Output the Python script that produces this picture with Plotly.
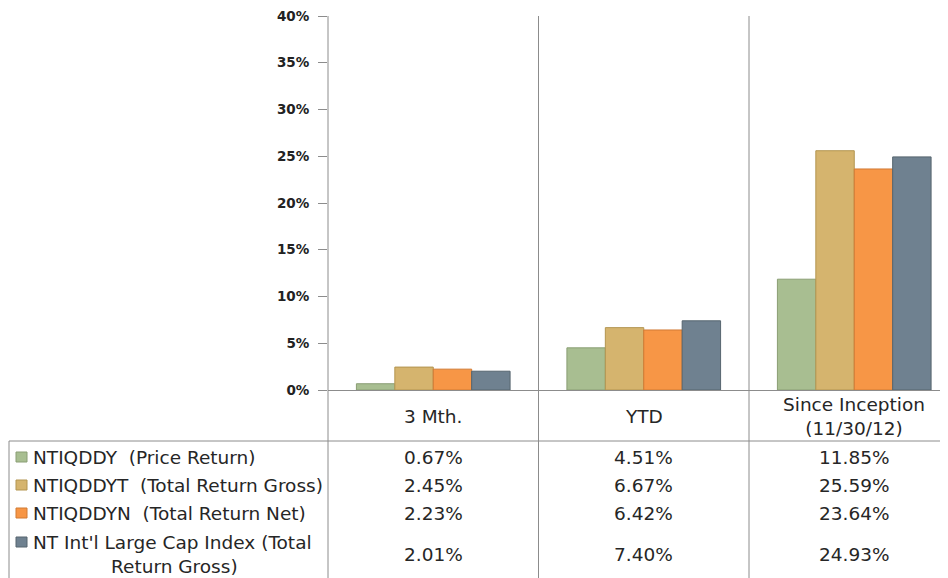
import plotly.graph_objects as go

categories = ["3 Mth.", "YTD", "Since Inception<br>(11/30/12)"]
series_names = [
    "NTIQDDY  (Price Return)",
    "NTIQDDYT  (Total Return Gross)",
    "NTIQDDYN  (Total Return Net)",
    "NT Int'l Large Cap Index (Total",
]
series_name_line2 = ["", "", "", "Return Gross)"]
price_return = [0.67, 4.51, 11.85]
total_return_gross = [2.45, 6.67, 25.59]
total_return_net = [2.23, 6.42, 23.64]
index_total_return_gross = [2.01, 7.40, 24.93]
y_ticks = [0, 5, 10, 15, 20, 25, 30, 35, 40]

series_values = [price_return, total_return_gross, total_return_net, index_total_return_gross]
colors = ["#A8BE91", "#D5B46E", "#F79646", "#6F8190"]
edge_colors = ["#8A9E74", "#B39550", "#D17A33", "#56656F"]

# page has an 8px body margin; figure is drawn so the visible window matches
OFF = 8
W, H = 948, 578
def px(x):
    return (x - OFF) / W
def py(y):
    return 1 - (y - OFF) / H

x_left = 328
cat_w = 210.5
n_vis = (948 - x_left) / cat_w
x_idx = [0, 1, 2]

fig = go.Figure()
for name, vals, c, ec in zip(series_names, series_values, colors, edge_colors):
    fig.add_trace(go.Bar(
        x=x_idx, y=[v / 100 for v in vals], name=name,
        marker=dict(color=c, line=dict(color=ec, width=1)),
        showlegend=False,
    ))

line_col = "#8C8C8C"
shapes = []
shapes.append(dict(type="line", xref="paper", yref="paper", x0=px(x_left), x1=px(x_left),
                   y0=py(16), y1=0, line=dict(color=line_col, width=1)))
for d in [0.5, 1.5]:
    shapes.append(dict(type="line", xref="x", yref="paper", x0=d, x1=d,
                       y0=py(16), y1=0, line=dict(color=line_col, width=1)))
shapes.append(dict(type="line", xref="paper", yref="paper", x0=px(9), x1=1,
                   y0=py(441), y1=py(441), line=dict(color=line_col, width=1)))
shapes.append(dict(type="line", xref="paper", yref="paper", x0=px(9), x1=px(9),
                   y0=py(441), y1=0, line=dict(color=line_col, width=1)))

row_y = [457, 485, 513, 554]
annotations = []
tfont = dict(family="DejaVu Sans, sans-serif", size=18.5, color="#262626")
for i, cat in enumerate(categories):
    annotations.append(dict(x=i, xref="x", y=py(416), yref="paper", text=cat,
                            showarrow=False, font=tfont, xanchor="center", yanchor="middle"))
for r, (name, name2, vals, c, ec) in enumerate(zip(series_names, series_name_line2, series_values, colors, edge_colors)):
    ly = row_y[r] if not name2 else 542
    shapes.append(dict(type="rect", xref="paper", yref="paper",
                       x0=px(16), x1=px(27), y0=py(ly + 5), y1=py(ly - 5),
                       fillcolor=c, line=dict(color=ec, width=1)))
    annotations.append(dict(x=px(31), xref="paper", y=py(ly), yref="paper",
                            text=name.replace("  ", "\u00a0\u00a0"),
                            showarrow=False, font=tfont, xanchor="left", yanchor="middle"))
    if name2:
        annotations.append(dict(x=px(174), xref="paper", y=py(566), yref="paper", text=name2,
                                showarrow=False, font=tfont, xanchor="center", yanchor="middle"))
    for i, v in enumerate(vals):
        annotations.append(dict(x=i, xref="x", y=py(row_y[r]), yref="paper", text=f"{v:.2f}%",
                                showarrow=False, font=tfont, xanchor="center", yanchor="middle"))

fig.update_layout(
    width=W, height=H,
    margin=dict(l=0, r=0, t=0, b=0),
    paper_bgcolor="white", plot_bgcolor="white",
    barmode="group", bargap=0.27, bargroupgap=0,
    shapes=shapes, annotations=annotations,
    xaxis=dict(domain=[px(x_left), px(948)], range=[-0.5, -0.5 + n_vis], automargin=False,
               showticklabels=False, showgrid=False, zeroline=False,
               showline=True, linecolor=line_col, linewidth=1, ticks=""),
    yaxis=dict(domain=[py(390), py(16)], range=[0, 0.40], automargin=False,
               tickvals=[t / 100 for t in y_ticks], tickformat=".0%",
               ticklabeloverflow="allow",
               showgrid=False, zeroline=False, showline=False,
               ticks="outside", ticklen=9, tickcolor=line_col,
               ticklabelstandoff=6,
               tickfont=dict(family="DejaVu Sans, sans-serif", size=13.5, color="#222", weight="bold")),
)

fig.write_html("out.html")
